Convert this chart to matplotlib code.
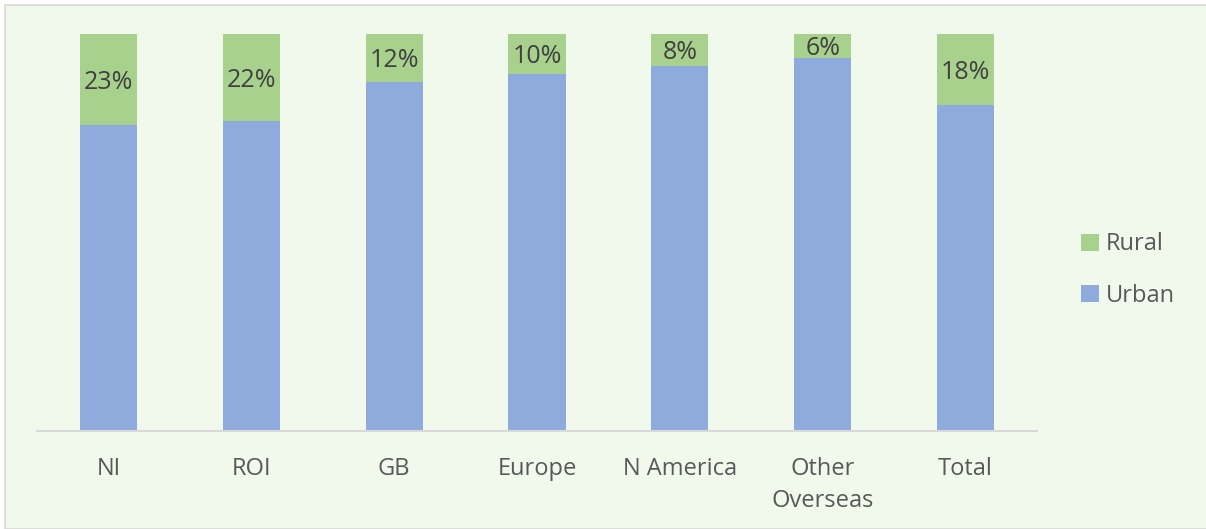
import matplotlib.pyplot as plt
from matplotlib.patches import Rectangle

categories = ['NI', 'ROI', 'GB', 'Europe', 'N America', 'Other\nOverseas', 'Total']
rural = [23, 22, 12, 10, 8, 6, 18]
urban = [100 - r for r in rural]
rural_labels = ['23%', '22%', '12%', '10%', '8%', '6%', '18%']

bg = '#F1F8EC'
green = '#A9D18E'
blue = '#8FAADC'

plt.rcParams['font.family'] = ['Open Sans', 'DejaVu Sans']

fig = plt.figure(figsize=(12.06, 5.29), dpi=100)
fig.patch.set_facecolor('white')
# chart box, drawn under the axes
fig.patches.append(Rectangle((5 / 1206, 0), 1, 1 - 5 / 529, transform=fig.transFigure,
                             facecolor=bg, edgecolor='#D9D9D9', linewidth=1.2, zorder=-10))

ax = fig.add_axes([37 / 1206, 1 - 431 / 529, 1000 / 1206, 397 / 529])
ax.set_facecolor('none')
x = range(len(categories))
ax.bar(x, urban, width=0.4, color=blue, label='Urban', zorder=2)
ax.bar(x, rural, width=0.4, bottom=urban, color=green, label='Rural', zorder=2)

for i, (u, r, lab) in enumerate(zip(urban, rural, rural_labels)):
    ax.text(i, u + r / 2, lab, ha='center', va='center_baseline', fontsize=18,
            color='#404040', zorder=3)

ax.set_xlim(-0.5, len(categories) - 0.5)
ax.set_ylim(0, 100)
ax.set_yticks([])
ax.set_xticks(list(x))
ax.set_xticklabels(categories, fontsize=17, color='#595959', linespacing=1.4)
ax.tick_params(axis='x', length=0, pad=19)
for s in ['top', 'right', 'left']:
    ax.spines[s].set_visible(False)
ax.spines['bottom'].set_color('#D9D9D9')
ax.spines['bottom'].set_linewidth(1.5)

handles, labels = ax.get_legend_handles_labels()
leg = fig.legend(handles[::-1], labels[::-1], loc='center left',
                 bbox_to_anchor=(1060 / 1206, 1 - 270 / 529), frameon=False,
                 fontsize=17, handlelength=0.75, handleheight=0.75, labelspacing=1.15,
                 handletextpad=0.3)
for t in leg.get_texts():
    t.set_color('#595959')

fig.savefig('out.png', dpi=100, facecolor=fig.get_facecolor())
